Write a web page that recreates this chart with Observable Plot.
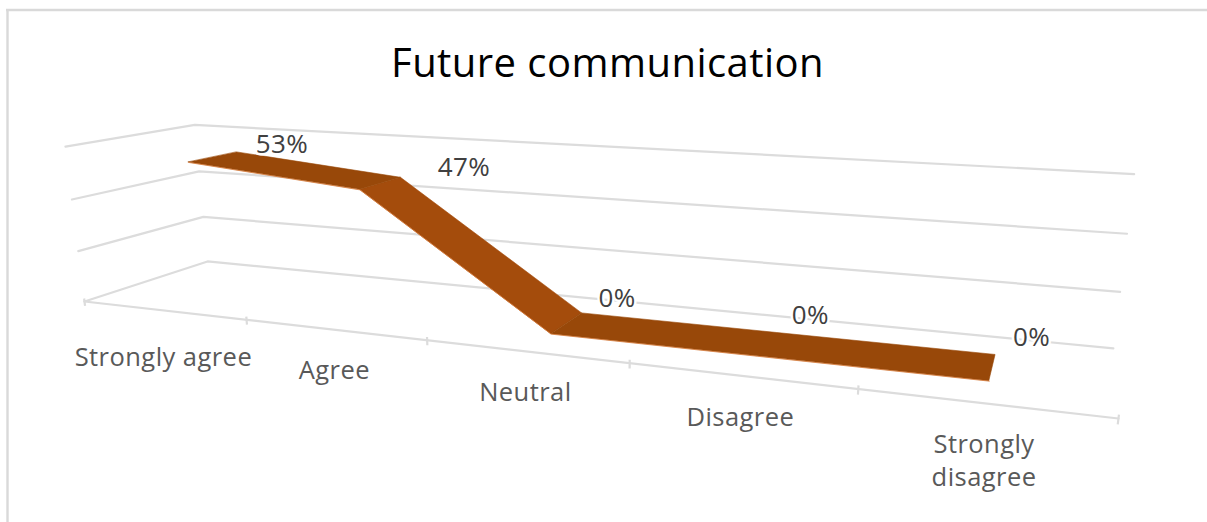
<!DOCTYPE html>
<html>
<head>
<meta charset="utf-8">
<style>
html,body{margin:0;padding:0;background:#fff}
svg{display:block}
.wide text{letter-spacing:.45px}
</style>
<script src="https://cdn.jsdelivr.net/npm/d3@7"></script>
<script src="https://cdn.jsdelivr.net/npm/@observablehq/plot@0.6"></script>
</head>
<body>
<script>
// Survey results
const chartTitle = "Future communication";
const categories = ["Strongly agree", "Agree", "Neutral", "Disagree", "Strongly\ndisagree"];
const shares = [53, 47, 0, 0, 0];
const gridValues = [0, 20, 40, 60];
const axisMax = 60;

// Perspective camera: u = category position, d = depth into the chart, h = share / axisMax
const width = 1207, height = 522;
function project(u, d, h) {
  const t = u / categories.length;
  const w = 1 - 0.2565 * t + 0.14 * d - 0.035 * h;
  return [
    (84 + 747.2 * t + 152 * d - 21.3 * h) / w,
    (301 + 9.8 * t - 3.5 * d - 160 * h) / w
  ];
}
const at = (u, d, v) => {
  const [x, y] = project(u, d, v / axisMax);
  return {x, y};
};

// Wall and floor gridlines
const gridRows = gridValues.flatMap((v) => [
  {v, ...at(0, 0, v)},
  {v, ...at(0, 1, v)},
  {v, ...at(categories.length, 1, v)}
]);
const floorFront = [at(0, 0, 0), at(categories.length, 0, 0)];
const tickRows = d3.range(categories.length + 1).map((u) => {
  const a = at(u, 0, 1.2), b = at(u, 0, -1.8);
  return {x1: a.x, y1: a.y, x2: b.x, y2: b.y};
});

// Ribbon: neighbouring segments of the same kind form one run between a front and a back edge
const ribbonFront = 0.3, ribbonBack = 0.7;
const kinds = shares.slice(1).map((v, i) => (shares[i] - v > 10 ? "falling" : "level"));
let run = 0;
const ribbonRows = kinds.flatMap((kind, i) => {
  if (i > 0 && kinds[i - 1] !== kind) run += 1;
  const runId = run;
  return [i, i + 1].map((k) => {
    const f = at(k + 0.5, ribbonFront, shares[k]);
    const b = at(k + 0.5, ribbonBack, shares[k]);
    return {run: runId, kind, x1: f.x, y1: f.y, x2: b.x, y2: b.y};
  });
});
const frontEdge = shares.map((v, k) => at(k + 0.5, ribbonFront, v));

// Value labels sit up and to the right of the ribbon's back edge
const valueNudgeX = [45, 63, 35, 33, 36];
const valueNudgeY = [-8, -10, -15, -17, -17];
const valueRows = shares.map((v, k) => {
  const p = at(k + 0.5, ribbonBack, v);
  return {text: `${v}%`, x: p.x + valueNudgeX[k], y: p.y + valueNudgeY[k]};
});

// Category labels hang below the front edge of the floor
const categoryDrop = [45, 39, 39, 40, 56];
const categoryRows = categories.map((text, k) => {
  const p = at(k + 0.5, 0, 0);
  return {text, x: p.x, y: p.y + categoryDrop[k]};
});

const grid = "#dcdcdc";
const font = "'Open Sans', sans-serif";

const chart = Plot.plot({
  className: "wide",
  width, height,
  margin: 0,
  x: {domain: [0, width], range: [0, width], axis: null},
  y: {domain: [0, height], range: [0, height], axis: null},
  style: {background: "#fff", fontFamily: font},
  marks: [
    // Chart area border
    Plot.ruleY([9.5], {x1: 6, x2: width, stroke: "#d9d9d9", strokeWidth: 2.4}),
    Plot.ruleX([7], {y1: 9, y2: height, stroke: "#d9d9d9", strokeWidth: 2.4}),

    Plot.line(gridRows, {x: "x", y: "y", z: "v", stroke: grid, strokeWidth: 2.2, strokeLinejoin: "miter"}),
    Plot.line(floorFront, {x: "x", y: "y", stroke: grid, strokeWidth: 2.2}),
    Plot.link(tickRows, {x1: "x1", y1: "y1", x2: "x2", y2: "y2", stroke: grid, strokeWidth: 2.2}),

    Plot.area(ribbonRows.filter((d) => d.kind === "falling"), {
      x1: "x1", y1: "y1", x2: "x2", y2: "y2", z: "run",
      fill: "#a44c0c", stroke: "#a44c0c", strokeWidth: 0.6
    }),
    Plot.area(ribbonRows.filter((d) => d.kind === "level"), {
      x1: "x1", y1: "y1", x2: "x2", y2: "y2", z: "run",
      fill: "#984809", stroke: "#984809", strokeWidth: 0.6
    }),
    Plot.line(frontEdge, {x: "x", y: "y", stroke: "#d77a3a", strokeWidth: 1, strokeOpacity: 0.8}),

    Plot.text(valueRows, {
      x: "x", y: "y", text: "text", fill: "#404040", fontSize: 26,
      stroke: "#fff", strokeWidth: 5, paintOrder: "stroke"
    }),
    Plot.text(categoryRows, {
      x: "x", y: "y", text: "text", fill: "#595959", fontSize: 25.5, lineHeight: 1.3
    }),
    Plot.text([chartTitle], {
      x: () => 607, y: () => 64, text: (d) => d, fill: "#000", fontSize: 40
    })
  ]
});
document.body.appendChild(chart);
</script>
</body>
</html>
